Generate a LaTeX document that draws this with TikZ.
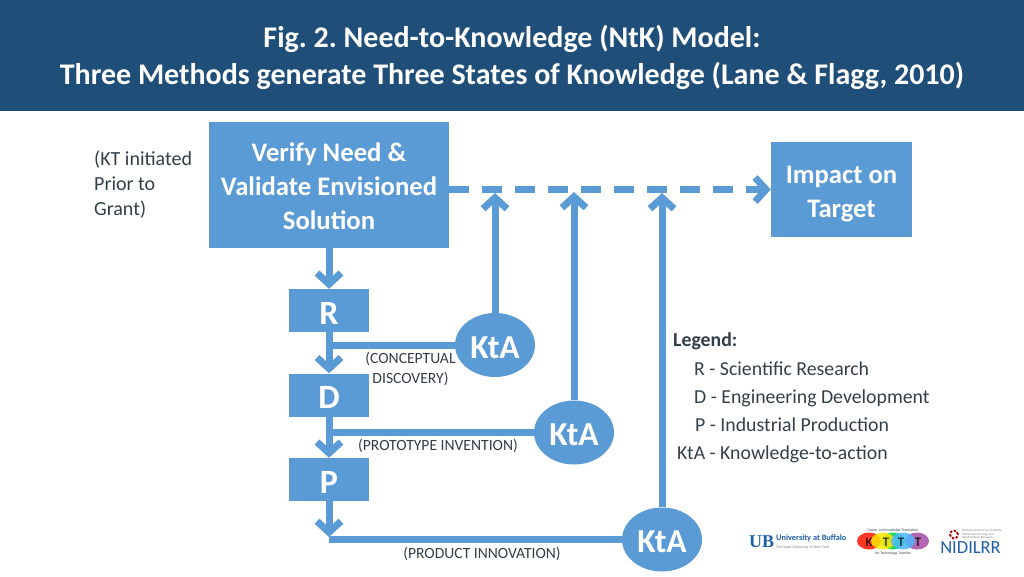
\documentclass[tikz,border=0pt]{standalone}
\usepackage{fontspec}
\setmainfont{Carlito}
\newfontfamily\slabfont{Liberation Serif}
\usepackage{tikz}
\usetikzlibrary{arrows.meta}
\usetikzlibrary{shapes.geometric}
\definecolor{headblue}{HTML}{1F4E79}
\definecolor{boxblue}{HTML}{5B9BD5}
\definecolor{labelgray}{HTML}{333F48}
\definecolor{ublue}{HTML}{1F5FA8}
\frenchspacing
\tikzset{
  box/.style={rectangle, fill=boxblue, inner sep=0pt},
  boxtext/.style={text=white, font=\bfseries\fontsize{26.7}{34}\selectfont, align=center, inner sep=0pt},
  letterbox/.style={rectangle, fill=boxblue, text=white, font=\bfseries\fontsize{34}{34}\selectfont, minimum width=80pt, minimum height=43pt, inner sep=0pt, text height=27pt, text depth=0pt},
  kta/.style={ellipse, fill=boxblue, text=white, font=\bfseries\fontsize{33.5}{40}\selectfont, minimum width=80pt, minimum height=64pt, inner sep=0pt, text height=26pt, text depth=0pt},
  flow/.style={draw=boxblue, line width=7pt, -{Straight Barb[length=11pt, width=24pt]}},
  link/.style={draw=boxblue, line width=7pt},
  note/.style={text=labelgray, font=\fontsize{15.6}{20}\selectfont, align=center, inner sep=0pt},
  legendline/.style={text=labelgray, font=\fontsize{19.8}{24}\selectfont, anchor=base west, inner sep=0pt},
  oval/.style={ellipse, minimum width=24pt, minimum height=17pt, inner sep=0pt, opacity=0.85},
  ovalletter/.style={font=\fontsize{13}{13}\selectfont, inner sep=0pt},
  tinytext/.style={inner sep=0pt, text=labelgray, font=\fontsize{3.8}{4}\selectfont},
}
\begin{document}
\begin{tikzpicture}[x=1pt, y=-1pt]
    \useasboundingbox (0,0) rectangle (1024,576);
    \fill[headblue] (0,0) rectangle (1024,111);
    \node[text=white, font=\bfseries\fontsize{30}{37}\selectfont, align=center, inner sep=0pt] (title) at (512,57)
      {Fig. 2. Need-to-Knowledge (NtK) Model:\\Three Methods generate Three States of Knowledge (Lane \& Flagg, 2010)};

    \node[box, minimum width=240pt, minimum height=126pt] (verify) at (329,185) {};
    \node[boxtext] (verifytext) at (329,186) {Verify Need \&\\Validate Envisioned\\Solution};
    \node[box, minimum width=141pt, minimum height=95pt] (impact) at (841.5,189.5) {};
    \node[boxtext] (impacttext) at (841.5,194.5) {Impact on\\Target};
    \node[letterbox] (r) at (329,310.5) {R};
    \node[letterbox] (d) at (329,395) {D};
    \node[letterbox] (p) at (329,479.5) {P};
    \node[kta] (kta1) at (495,345) {KtA};
    \node[kta] (kta2) at (574,432.5) {KtA};
    \node[kta] (kta3) at (662,539.5) {KtA};

    \coordinate (hit1) at (495,193);
    \coordinate (hit2) at (574,192);
    \coordinate (hit3) at (662,193);

    \draw[flow] (verify) -- (r);
    \draw[flow] (r) -- (d);
    \draw[flow] (d) -- (p);
    \draw[flow] (p.south) -- ([yshift=2.5pt]p.south |- kta3);
    \draw[link] (kta1.west) -- (kta1.west -| r.south);
    \draw[link] (kta2.west) -- (kta2.west -| d.south);
    \draw[link] (kta3.west) -- (kta3.west -| p.south);
    \foreach \i/\j in {kta1/hit1, kta2/hit2, kta3/hit3}
      \draw[flow] (\i) -- (\j);
    \draw[flow, dash pattern=on 20pt off 13pt] (verify.east |- impact) -- (impact.west);

    \node[note, anchor=north west, align=left, font=\fontsize{20}{25}\selectfont] (grant) at (94,151) {(KT initiated\\Prior to\\Grant)};
    \node[note] (concept) at (410.5,368.5) {(CONCEPTUAL\\DISCOVERY)};
    \node[note] (proto) at (438,446) {(PROTOTYPE INVENTION)};
    \node[note] (product) at (482,554) {(PRODUCT INNOVATION)};

    \node[legendline, font=\bfseries\fontsize{19.8}{24}\selectfont] (legend) at (673,346) {Legend:};
    \node[legendline] (leg1) at (694,375) {R - Scientific Research};
    \node[legendline] (leg2) at (694,403) {D - Engineering Development};
    \node[legendline] (leg3) at (695,431) {P - Industrial Production};
    \node[legendline] (leg4) at (677,459) {KtA - Knowledge-to-action};

    \node[text=ublue, font=\slabfont\bfseries\fontsize{18}{18}\selectfont, inner sep=0pt] (ub) at (761.5,542) {UB};
    \node[text=ublue, font=\bfseries\fontsize{8.3}{9}\selectfont, anchor=west, inner sep=0pt] (buffalo) at (776,538.5) {University at Buffalo};
    \node[tinytext, text=gray, font=\fontsize{4}{4}\selectfont, anchor=west] (suny) at (776,547.5) {The State University of New York};

    \node[oval, fill=red!85!orange] (ov1) at (869,541) {};
    \node[oval, fill=violet!70] (ov5) at (917,541) {};
    \node[oval, fill=green!65!teal] (ov3) at (893,541) {};
    \node[oval, fill=yellow!90!orange] (ov2) at (883,541) {};
    \node[oval, fill=blue!40!cyan!70] (ov4) at (903,541) {};
    \node[ovalletter] (k1) at (869,542) {K};
    \node[ovalletter] (k2) at (886,542) {T};
    \node[ovalletter] (k3) at (901,542) {T};
    \node[ovalletter] (k4) at (918,542) {T};
    \node[tinytext] (ktop) at (893,530) {Center on Knowledge Translation};
    \node[tinytext] (kbot) at (893,553) {for Technology Transfer};

    \node[text=ublue, font=\fontsize{18.5}{18}\selectfont, inner sep=0pt] (nidilrr) at (970.5,548) {NIDILRR};
    \draw[red!70!black, line width=1.8pt, dash pattern=on 2.5pt off 1.5pt] (954,534.5) circle (4pt);
    \node[tinytext, text=gray, font=\fontsize{3.2}{2.5}\selectfont, anchor=west, align=left] (nidtext) at (962,534) {National Institute on Disability,\\Independent Living, and\\Rehabilitation Research};
\end{tikzpicture}
\end{document}
